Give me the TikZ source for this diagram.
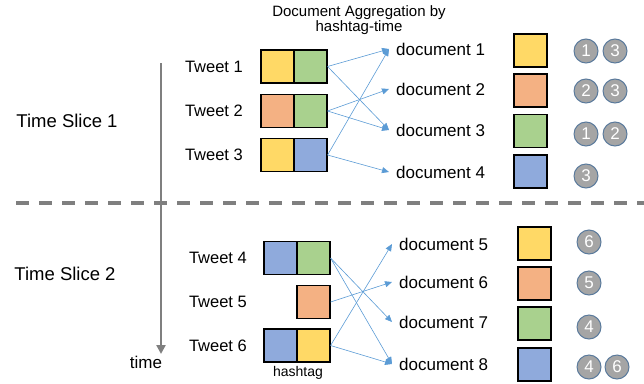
\documentclass[tikz,border=0pt]{standalone}
\usepackage{fontspec}
\setmainfont{Liberation Sans}
\usepackage{tikz}
\usetikzlibrary{arrows.meta}

\definecolor{cyel}{HTML}{FFD966}
\definecolor{corg}{HTML}{F4B183}
\definecolor{cgrn}{HTML}{A9D18E}
\definecolor{cblu}{HTML}{8FAADC}
\definecolor{cline}{HTML}{5B9BD5}
\definecolor{cgray}{HTML}{7F7F7F}
\definecolor{ccirc}{HTML}{A5A5A5}
\definecolor{cring}{HTML}{5A7A9C}

\tikzset{
  sq/.style={draw=black, line width=1.1pt, minimum size=33pt, inner sep=0pt},
  tw/.style={anchor=east, inner sep=3pt, font=\fontsize{16.5}{18}\selectfont},
  doc/.style={anchor=west, inner xsep=7pt, inner ysep=2pt, font=\fontsize{17}{18}\selectfont},
  num/.style={circle, fill=ccirc, draw=cring, line width=1pt, minimum size=24pt, inner sep=0pt,
    text=white, font=\fontsize{17}{17}\selectfont},
  link/.style={draw=cline, line width=0.6pt, -{Triangle[length=7pt, width=6pt]}}
}

\begin{document}
\begin{tikzpicture}[x=1pt, y=-1pt]
    \useasboundingbox (0,0) rectangle (644,383);

    \node[align=center, font=\fontsize{15}{13}\selectfont] (title) at (359,20) {Document Aggregation by\\hashtag-time};

    \node[font=\fontsize{18.5}{20}\selectfont] (slice1) at (67,121) {Time Slice 1};
    \node[font=\fontsize{18.5}{20}\selectfont] (slice2) at (65,274) {Time Slice 2};

    \coordinate (dl) at (16,203);
    \coordinate (dr) at (644,203);
    \draw[cgray, line width=3.5pt, dash pattern=on 13pt off 10pt] (dl) -- (dr);

    \node[font=\fontsize{17}{18}\selectfont] (timelbl) at (146,362) {time};
    \coordinate (ttop) at (161,63);
    \coordinate (tend) at (161,354);
    \draw[cgray, line width=2.6pt, -{Triangle[length=9pt, width=9pt]}] (ttop) -- (tend);

    \node[tw] (tw1) at (246,66.5) {Tweet 1};
    \node[tw] (tw2) at (246,111) {Tweet 2};
    \node[tw] (tw3) at (246,155) {Tweet 3};
    \node[sq, fill=cyel] (t1a) at (277.5,66.5) {};
    \node[sq, fill=cgrn] (t1b) at (310.5,66.5) {};
    \node[sq, fill=corg] (t2a) at (277.5,111) {};
    \node[sq, fill=cgrn] (t2b) at (310.5,111) {};
    \node[sq, fill=cyel] (t3a) at (277.5,155) {};
    \node[sq, fill=cblu] (t3b) at (310.5,155) {};

    \node[doc] (d1) at (389,49) {document 1};
    \node[doc] (d2) at (389,89) {document 2};
    \node[doc] (d3) at (389,130) {document 3};
    \node[doc] (d4) at (389,172) {document 4};

    \draw[link] (t1b.east) -- (d1.west);
    \draw[link] (t1b.east) -- (d3.west);
    \draw[link] (t2b.east) -- (d2.west);
    \draw[link] (t2b.east) -- (d3.west);
    \draw[link] (t3b.east) -- (d1.west);
    \draw[link] (t3b.east) -- (d4.west);

    \node[sq, fill=cyel] (k1) at (530.5,50.5) {};
    \node[sq, fill=corg] (k2) at (530.5,90.5) {};
    \node[sq, fill=cgrn] (k3) at (530.5,131) {};
    \node[sq, fill=cblu] (k4) at (530.5,171.5) {};

    \node[num] (n1a) at (586,51) {1};
    \node[num] (n1b) at (615,51) {3};
    \node[num] (n2a) at (586,91) {2};
    \node[num] (n2b) at (615,91) {3};
    \node[num] (n3a) at (586,134) {1};
    \node[num] (n3b) at (615,134) {2};
    \node[num] (n4a) at (586,176) {3};

    \node[tw] (tw4) at (250,258) {Tweet 4};
    \node[tw] (tw5) at (250,302) {Tweet 5};
    \node[tw] (tw6) at (250,345.5) {Tweet 6};
    \node[sq, fill=cblu] (t4a) at (280.5,258) {};
    \node[sq, fill=cgrn] (t4b) at (313.5,258) {};
    \node[sq, fill=corg] (t5b) at (313.5,302) {};
    \node[sq, fill=cblu] (t6a) at (280.5,345.5) {};
    \node[sq, fill=cyel] (t6b) at (313.5,345.5) {};
    \node[font=\fontsize{14}{15}\selectfont] (htag) at (298,373) {hashtag};

    \node[doc] (d5) at (392,244) {document 5};
    \node[doc] (d6) at (392,282) {document 6};
    \node[doc] (d7) at (392,322) {document 7};
    \node[doc] (d8) at (392,364) {document 8};

    \draw[link] (t4b.east) -- (d7.west);
    \draw[link] (t4b.east) -- (d8.west);
    \draw[link] (t5b.east) -- (d6.west);
    \draw[link] (t6b.east) -- (d5.west);
    \draw[link] (t6b.east) -- (d8.west);

    \node[sq, fill=cyel] (k5) at (534.5,243.5) {};
    \node[sq, fill=corg] (k6) at (534.5,283.5) {};
    \node[sq, fill=cgrn] (k7) at (534.5,323.5) {};
    \node[sq, fill=cblu] (k8) at (534.5,364.5) {};

    \node[num] (n5a) at (589,242) {6};
    \node[num] (n6a) at (589,283) {5};
    \node[num] (n7a) at (589,327) {4};
    \node[num] (n8a) at (589,367) {4};
    \node[num] (n8b) at (617,367) {6};
\end{tikzpicture}
\end{document}
